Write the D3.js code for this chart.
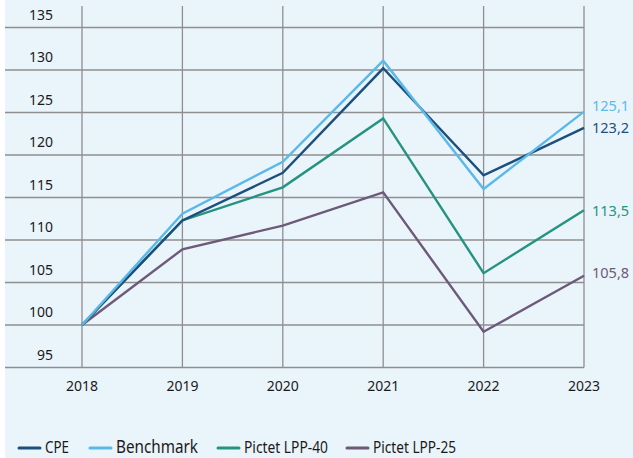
<!DOCTYPE html>
<html><head><meta charset="utf-8">
<script src="https://cdn.jsdelivr.net/npm/d3@7"></script>
<style>
body{margin:0;background:#fff;}
svg{display:block;font-family:"Noto Sans","Open Sans",sans-serif;}
</style></head>
<body><svg id="c" width="633" height="458"></svg>
<script>
const years = [2018, 2019, 2020, 2021, 2022, 2023];
const yTicks = [95, 100, 105, 110, 115, 120, 125, 130, 135];
const seriesNames = ["CPE", "Benchmark", "Pictet LPP-40", "Pictet LPP-25"];
const cpe = [100, 112.3, 117.9, 130.2, 117.6, 123.2];
const benchmark = [100, 113.1, 119.2, 131.1, 116.0, 125.1];
const lpp40 = [100, 112.3, 116.2, 124.3, 106.1, 113.5];
const lpp25 = [100, 108.9, 111.7, 115.6, 99.2, 105.8];
const endLabels = ["123,2", "125,1", "113,5", "105,8"];
const colors = ["#1d4f7c", "#5bb9ea", "#24937f", "#6d5a78"];

const svg = d3.select("#c");
svg.append("rect").attr("x",5).attr("y",0).attr("width",628).attr("height",458).attr("fill","#eaf4fb");

const x = d3.scalePoint().domain(years).range([82, 584]);
const y = d3.scaleLinear().domain([95, 135]).range([367.5, 27.5]);

const grid = svg.append("g");
grid.selectAll("line.h").data(yTicks).join("line")
  .attr("x1",5).attr("x2",584).attr("y1",d=>y(d)).attr("y2",d=>y(d))
  .attr("stroke","#8f8f8f").attr("stroke-width",1.3);
grid.selectAll("line.v").data(years).join("line")
  .attr("x1",d=>x(d)).attr("x2",d=>x(d)).attr("y1",6).attr("y2",y(95))
  .attr("stroke","#8f8f8f").attr("stroke-width",1.3);

svg.append("g").selectAll("text").data(yTicks).join("text")
  .attr("x",53).attr("y",d=>y(d)-8).attr("text-anchor","end")
  .attr("font-size",14).attr("fill","#1a1a1a").text(d=>d);

svg.append("g").selectAll("text").data(years).join("text")
  .attr("x",d=>x(d)).attr("y",391).attr("text-anchor","middle")
  .attr("font-size",14).attr("fill","#1a1a1a").text(d=>d);

const all = [cpe, benchmark, lpp40, lpp25];
const line = d3.line().x((d,i)=>x(years[i])).y(d=>y(d));
const order = [3, 2, 0, 1];
order.forEach(k=>{
  svg.append("path").datum(all[k]).attr("d",line).attr("fill","none")
    .attr("stroke",colors[k]).attr("stroke-width",2.4).attr("stroke-linejoin","miter");
});
const labelDy = [5, -1, 6, 2];
all.forEach((s,k)=>{
  svg.append("text").attr("x",592).attr("y",y(s[5])+labelDy[k]).attr("font-size",14.5)
    .attr("fill",colors[k]).text(endLabels[k]);
});

const legX = [19, 90, 218, 347];
const legSize = [16, 18, 16, 16];
const legW = [24, 82, 84, 83];
const lg = svg.append("g");
seriesNames.forEach((n,k)=>{
  lg.append("line").attr("x1",legX[k]).attr("x2",legX[k]+21).attr("y1",448).attr("y2",448)
    .attr("stroke",colors[k]).attr("stroke-width",3).attr("stroke-linecap","round");
  lg.append("text").attr("x",legX[k]+26).attr("y",453).attr("font-size",legSize[k])
    .attr("fill","#1a1a1a").attr("textLength",legW[k]).attr("lengthAdjust","spacingAndGlyphs").text(n);
});
</script></body></html>
